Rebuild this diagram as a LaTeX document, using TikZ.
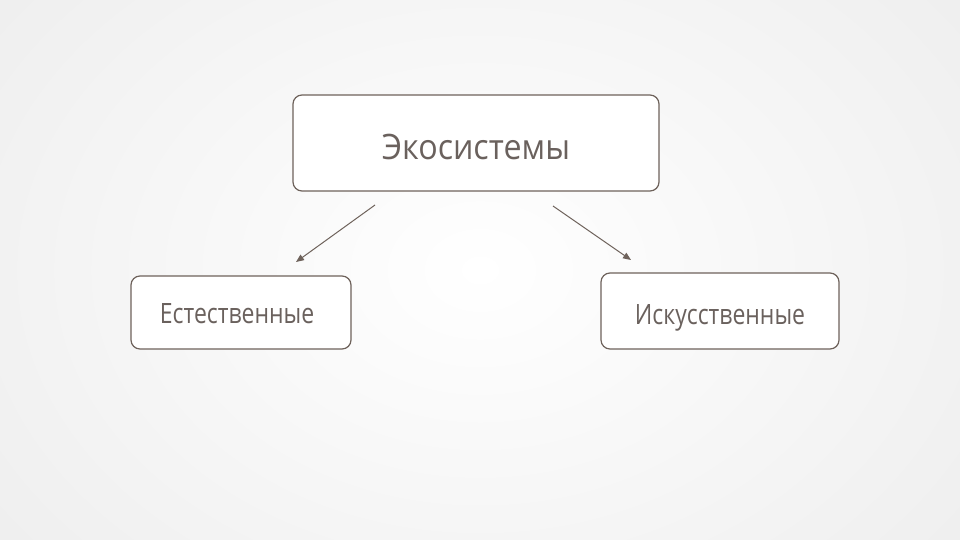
\documentclass[tikz,border=0pt]{standalone}
\usepackage{fontspec}
\setmainfont{Open Sans}
\newfontfamily\topf[FakeStretch=0.92]{Open Sans}
\newfontfamily\botf[FakeStretch=0.82]{Open Sans}
\usetikzlibrary{arrows.meta}
\definecolor{edge}{HTML}{6E625B}
\definecolor{txt}{HTML}{6A615D}
\definecolor{bgout}{HTML}{EEEEEE}
\tikzset{
  box/.style={draw=edge, line width=1.2pt, rounded corners=9pt, fill=white, text=txt, inner sep=0pt, text depth=0pt},
  conn/.style={draw=edge, line width=1pt, -{Triangle[length=8pt,width=6.5pt]}},
}
\begin{document}
\begin{tikzpicture}[x=1pt,y=-1pt]
\useasboundingbox (0,0) rectangle (960,540);
\begin{scope}
\clip (0,0) rectangle (960,540);
\shade[inner color=white, outer color=bgout] (-150,-200) rectangle (1110,740);
\end{scope}
\node[box, minimum width=366pt, minimum height=96pt, text height=34pt, font=\topf\fontsize{35}{38}\selectfont] (top) at (476,143) {Экосистемы};
\node[box, minimum width=220pt, minimum height=73pt, text height=21pt, font=\botf\fontsize{28}{30}\selectfont] (left) at (241,312.5) {Естественные\hspace*{8pt}};
\node[box, minimum width=238pt, minimum height=76pt, text height=26pt, font=\botf\fontsize{28}{30}\selectfont] (right) at (720,311) {Искусственные};
\coordinate (la) at (375,205);
\coordinate (ra) at (553,206);
\coordinate (lb) at (296,262);
\coordinate (rb) at (631,260);
\draw[conn] (la) -- (lb);
\draw[conn] (ra) -- (rb);
\end{tikzpicture}
\end{document}
